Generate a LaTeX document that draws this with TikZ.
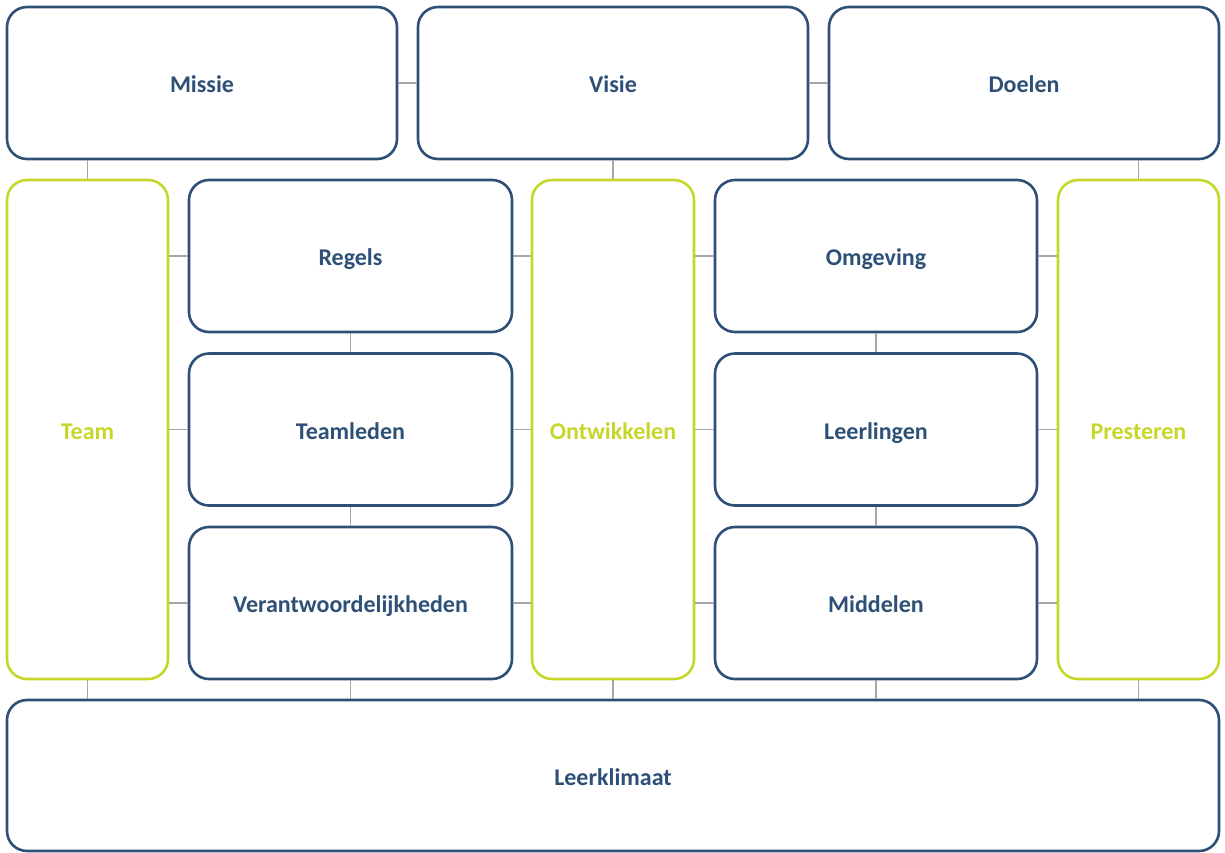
\documentclass[tikz,border=0pt]{standalone}
\usepackage{fontspec}
\setmainfont{Carlito}
\definecolor{dblue}{HTML}{2E5077}
\definecolor{lgreen}{HTML}{C5D82A}
\definecolor{cgray}{HTML}{A6A6A6}
\begin{document}
\begin{tikzpicture}[x=1pt,y=-1pt,
  box/.style={draw=dblue,line width=2.6pt,rounded corners=20pt,fill=white,inner sep=0pt,
    text height=19pt,text depth=0pt,
    font=\fontsize{24}{28}\selectfont\bfseries,text=dblue},
  gbox/.style={box,draw=lgreen,text=lgreen},
  conn/.style={draw=cgray,line width=1.3pt}]
\useasboundingbox (0,0) rectangle (1225,852);
% nodes
\node[box,minimum width=390pt,minimum height=152pt] (missie) at (202,83) {Missie};
\node[box,minimum width=390pt,minimum height=152pt] (visie) at (613,83) {Visie};
\node[box,minimum width=390pt,minimum height=152pt] (doelen) at (1024,83) {Doelen};
\node[gbox,minimum width=161pt,minimum height=499pt] (team) at (87.5,429.5) {Team};
\node[box,minimum width=323pt,minimum height=152pt] (regels) at (350.5,256) {Regels};
\node[box,minimum width=323pt,minimum height=152pt] (teamleden) at (350.5,429.5) {Teamleden};
\node[box,minimum width=323pt,minimum height=152pt] (verant) at (350.5,603) {Verantwoordelijkheden};
\node[gbox,minimum width=162pt,minimum height=499pt] (ontw) at (613,429.5) {Ontwikkelen};
\node[box,minimum width=322pt,minimum height=152pt] (omgeving) at (876,256) {Omgeving};
\node[box,minimum width=322pt,minimum height=152pt] (leerlingen) at (876,429.5) {Leerlingen};
\node[box,minimum width=322pt,minimum height=152pt] (middelen) at (876,603) {Middelen};
\node[gbox,minimum width=161pt,minimum height=499pt] (presteren) at (1138.5,429.5) {Presteren};
\node[box,minimum width=1212pt,minimum height=151pt] (leer) at (613,775.5) {Leerklimaat};
% connectors
\draw[conn] (missie.east) -- (visie.west);
\draw[conn] (visie.east) -- (doelen.west);
\draw[conn] (missie.south -| team.north) -- (team.north);
\draw[conn] (visie.south) -- (ontw.north);
\draw[conn] (doelen.south -| presteren.north) -- (presteren.north);
\foreach \a in {regels,teamleden,verant}{
  \draw[conn] (\a.west) -- (\a.west -| team.east);
  \draw[conn] (\a.east) -- (\a.east -| ontw.west);
}
\foreach \a in {omgeving,leerlingen,middelen}{
  \draw[conn] (\a.west) -- (\a.west -| ontw.east);
  \draw[conn] (\a.east) -- (\a.east -| presteren.west);
}
\draw[conn] (regels.south) -- (teamleden.north);
\draw[conn] (teamleden.south) -- (verant.north);
\draw[conn] (omgeving.south) -- (leerlingen.north);
\draw[conn] (leerlingen.south) -- (middelen.north);
\foreach \a in {team,verant,ontw,middelen,presteren}{
  \draw[conn] (\a.south) -- (\a.south |- leer.north);
}
\end{tikzpicture}
\end{document}
